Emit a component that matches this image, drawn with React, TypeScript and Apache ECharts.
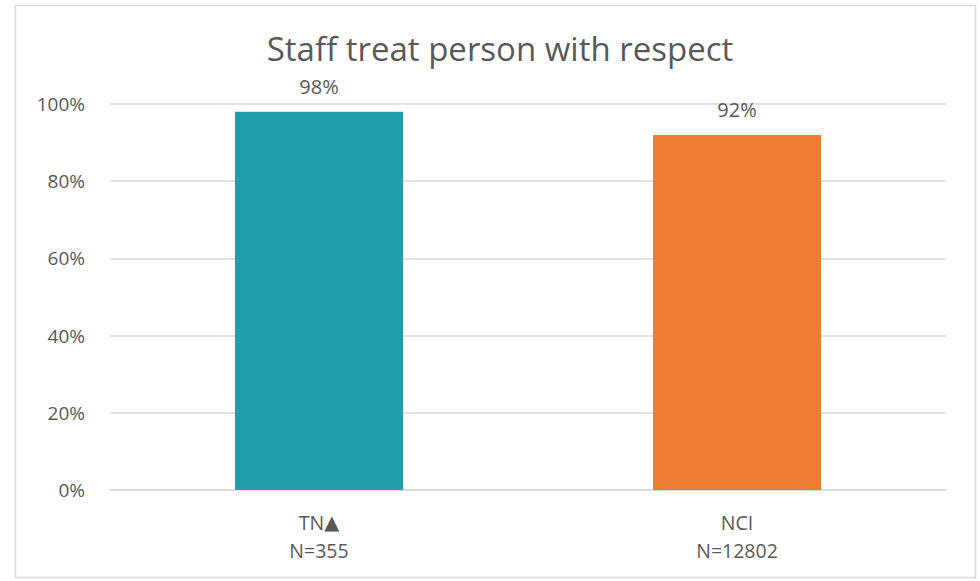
import React, { useEffect, useRef } from "react";
import * as echarts from "echarts";

const categories = ["TN▲\nN=355", "NCI\nN=12802"];
const values = [98, 92];
const barColors = ["#219EA8", "#ED7D31"];
const yTicks = [0, 20, 40, 60, 80, 100];

export default function App() {
  const ref = useRef<HTMLDivElement>(null);
  useEffect(() => {
    const chart = echarts.init(ref.current!, null, { renderer: "svg" });
    chart.setOption({
      animation: false,
      backgroundColor: "#ffffff",
      textStyle: { fontFamily: "Open Sans" },
      title: {
        text: "Staff treat person with respect",
        left: 495,
        textAlign: "center",
        top: 27,
        textStyle: { fontSize: 33, fontWeight: "normal", color: "#595959", fontFamily: "Open Sans" },
      },
      graphic: [
        {
          type: "rect",
          shape: { x: 15.5, y: 5.5, width: 960, height: 572 },
          style: { fill: "none", stroke: "#D9D9D9", lineWidth: 1.5 },
          silent: true,
        },
      ],
      grid: { left: 110, right: 34, top: 104, bottom: 91, containLabel: false },
      xAxis: {
        type: "category",
        data: categories,
        axisLine: { show: true, lineStyle: { color: "#D9D9D9", width: 1.5 } },
        axisTick: { show: false },
        axisLabel: {
          color: "#595959",
          fontSize: 19.5,
          lineHeight: 28,
          margin: 18,
          fontFamily: "Open Sans",
          formatter: (v: string) => v.replace("▲", "{t|▲}"),
          rich: {
            t: { fontSize: 19.5, lineHeight: 28, color: "#595959", fontFamily: "DejaVu Sans" },
          },
        },
      },
      yAxis: {
        type: "value",
        min: yTicks[0],
        max: yTicks[yTicks.length - 1],
        interval: 20,
        axisLine: { show: false },
        axisTick: { show: false },
        splitLine: { lineStyle: { color: "#D9D9D9", width: 1.5 } },
        axisLabel: { formatter: "{value}%", color: "#595959", fontSize: 19, margin: 25, fontFamily: "Open Sans" },
      },
      series: [
        {
          type: "bar",
          barWidth: 168,
          data: values.map((v, i) => ({ value: v, itemStyle: { color: barColors[i] } })),
          label: {
            show: true,
            position: "top",
            distance: 15,
            formatter: "{c}%",
            color: "#595959",
            fontSize: 20,
            fontFamily: "Open Sans",
          },
        },
      ],
    });
    return () => chart.dispose();
  }, []);
  return <div ref={ref} style={{ position: "absolute", left: 0, top: 0, width: 980, height: 581 }} />;
}
